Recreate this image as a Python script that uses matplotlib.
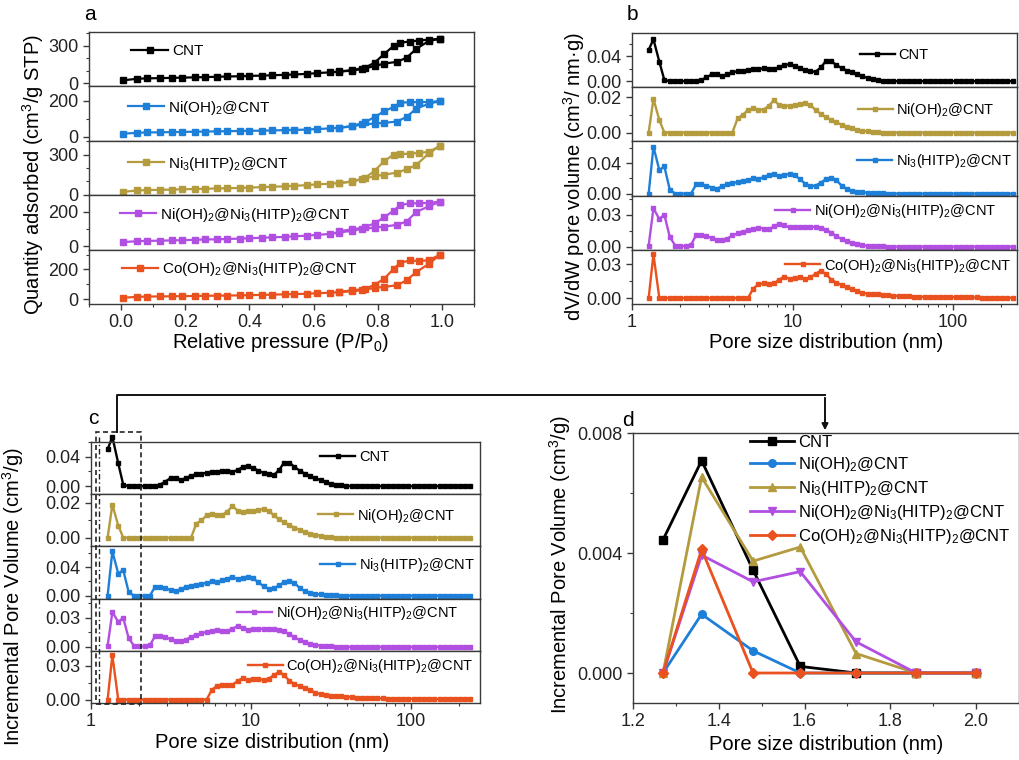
import numpy as np
import matplotlib
matplotlib.use('Agg')
import matplotlib.pyplot as plt
from matplotlib.ticker import MultipleLocator, FormatStrFormatter, LogLocator, NullFormatter, FixedLocator, FixedFormatter
from matplotlib.lines import Line2D
from matplotlib.patches import Rectangle, FancyArrowPatch
import matplotlib.transforms as mtransforms

plt.rcParams['font.family'] = ['Liberation Sans', 'DejaVu Sans']
plt.rcParams['mathtext.fontset'] = 'custom'
plt.rcParams['mathtext.rm'] = 'Liberation Sans'
plt.rcParams['mathtext.it'] = 'Liberation Sans:italic'
plt.rcParams['mathtext.bf'] = 'Liberation Sans:bold'

# ---------------- data ----------------
labels = ["CNT", "Ni(OH)$_2$@CNT", "Ni$_3$(HITP)$_2$@CNT",
          "Ni(OH)$_2$@Ni$_3$(HITP)$_2$@CNT", "Co(OH)$_2$@Ni$_3$(HITP)$_2$@CNT"]

# Panel a: N2 isotherms
ads_p = [0.005, 0.05, 0.08, 0.12, 0.16, 0.19, 0.23, 0.26, 0.30, 0.33, 0.37, 0.40, 0.44, 0.47, 0.51,
         0.54, 0.58, 0.61, 0.65, 0.68, 0.72, 0.75, 0.79, 0.82, 0.86, 0.89, 0.92, 0.96, 0.995]
des_p = [0.995, 0.96, 0.93, 0.90, 0.87, 0.85, 0.82, 0.79, 0.76, 0.72, 0.68]

cnt_ads = [24, 37, 40, 42, 44, 46, 48, 50, 53, 55, 57, 60, 62, 65, 68, 71, 76, 82, 88, 94, 102, 114, 138, 158, 172, 205, 275, 340, 355]
cnt_des = [355, 350, 342, 334, 325, 300, 235, 165, 125, 106, 95]
nioh_ads = [17, 22, 24, 25, 26, 27, 28, 29, 30, 31, 32, 33, 34, 35, 37, 38, 40, 43, 46, 50, 57, 68, 73, 77, 84, 110, 155, 183, 197]
nioh_des = [197, 192, 192, 191, 188, 165, 141, 109, 80, 60, 50]
ni3_ads = [22, 32, 35, 37, 39, 41, 43, 45, 47, 49, 51, 54, 57, 60, 63, 67, 72, 78, 82, 88, 98, 117, 138, 150, 165, 190, 222, 310, 366]
ni3_des = [366, 320, 312, 307, 302, 300, 251, 178, 125, 100, 86]
niohni3_ads = [25, 30, 32, 33, 35, 36, 38, 40, 41, 43, 45, 47, 50, 52, 55, 58, 62, 66, 72, 80, 90, 100, 108, 114, 124, 143, 198, 231, 257]
niohni3_des = [257, 250, 248, 247, 237, 206, 167, 133, 110, 98, 88]
cohni3_ads = [9, 15, 17, 18, 19, 20, 21, 22, 23, 24, 25, 27, 28, 30, 32, 34, 36, 39, 43, 47, 52, 60, 75, 82, 93, 127, 182, 238, 300]
cohni3_des = [300, 262, 256, 260, 244, 204, 138, 95, 70, 58, 50]

# Panels b & c: pore size distributions
psd_x = [1.27, 1.36, 1.48, 1.59, 1.72, 1.86, 2.00, 2.16, 2.33, 2.51, 2.70, 2.91, 3.14, 3.38, 3.64, 3.92,
         4.22, 4.55, 4.90, 5.28, 5.69, 6.13, 6.60, 7.11, 7.66, 8.25, 8.89, 9.58, 10.3, 11.1, 12.0, 12.9,
         13.9, 15.0, 16.1, 17.4, 18.7, 20.2, 21.7, 23.4, 25.2, 27.2, 29.3, 31.5, 34.0, 36.6, 39.4, 42.5,
         45.8, 49.3, 53.1, 57.2, 61.6, 66.4, 71.5, 77.0, 83.0, 89.4, 96.3, 104, 112, 120, 130, 140, 151,
         162, 175, 188, 203, 218, 235]
psd_cnt = [0.050, 0.067, 0.031, 0.002, 0.0, 0.0, 0.0, 0.0, 0.0, 0.0, 0.002, 0.006, 0.011, 0.011, 0.008, 0.011,
           0.014, 0.016, 0.017, 0.018, 0.019, 0.019, 0.021, 0.020, 0.019, 0.022, 0.026, 0.027, 0.025, 0.021, 0.018, 0.016,
           0.015, 0.022, 0.032, 0.032, 0.026, 0.021, 0.017, 0.014, 0.011, 0.008, 0.005, 0.003, 0.002, 0.001, 0.0005, 0.0,
           0.0, 0.0, 0.0, 0.0, 0.0, 0.0, 0.0, 0.0, 0.0, 0.0, 0.0, 0.0, 0.0, 0.0, 0.0, 0.0, 0.0,
           0.0, 0.0, 0.0, 0.0, 0.0, 0.0]
psd_nioh = [0.0, 0.019, 0.007, 0.0, 0.0, 0.0, 0.0, 0.0, 0.0, 0.0, 0.0, 0.0, 0.0, 0.0, 0.0, 0.0,
            0.0, 0.008, 0.010, 0.0128, 0.0137, 0.013, 0.013, 0.0150, 0.0183, 0.0155, 0.0150, 0.0152, 0.0155, 0.0160, 0.0165, 0.0155,
            0.0128, 0.0105, 0.0088, 0.0072, 0.0058, 0.0045, 0.0033, 0.0024, 0.0016, 0.0010, 0.0006, 0.0003, 0.0001, 0.0, 0.0, 0.0,
            0.0, 0.0, 0.0, 0.0, 0.0, 0.0, 0.0, 0.0, 0.0, 0.0, 0.0, 0.0, 0.0, 0.0, 0.0, 0.0, 0.0,
            0.0, 0.0, 0.0, 0.0, 0.0, 0.0]
psd_ni3 = [0.0, 0.062, 0.031, 0.036, 0.005, 0.0, 0.0, 0.0, 0.0, 0.012, 0.012, 0.0105, 0.008, 0.0065, 0.0095, 0.012,
           0.0135, 0.0155, 0.0165, 0.0178, 0.020, 0.019, 0.022, 0.024, 0.0265, 0.023, 0.0245, 0.026, 0.0245, 0.019, 0.013, 0.0098,
           0.0105, 0.0145, 0.019, 0.021, 0.018, 0.0105, 0.0065, 0.0040, 0.0027, 0.0018, 0.0012, 0.0007, 0.0004, 0.0002, 0.0, 0.0,
           0.0, 0.0, 0.0, 0.0, 0.0, 0.0, 0.0, 0.0, 0.0, 0.0, 0.0, 0.0, 0.0, 0.0, 0.0, 0.0, 0.0,
           0.0, 0.0, 0.0, 0.0, 0.0, 0.0]
psd_niohni3 = [0.001, 0.036, 0.026, 0.030, 0.009, 0.001, 0.0005, 0.0005, 0.0015, 0.0110, 0.0112, 0.0098, 0.0082, 0.0062, 0.0060, 0.0075,
               0.0105, 0.0125, 0.0140, 0.0155, 0.0165, 0.0178, 0.0170, 0.0165, 0.0190, 0.0215, 0.0200, 0.0180, 0.0185, 0.0187, 0.0187, 0.0187,
               0.0186, 0.0178, 0.0160, 0.0132, 0.0100, 0.0070, 0.0050, 0.0034, 0.0021, 0.0013, 0.0008, 0.0005, 0.0003, 0.0002, 0.0, 0.0,
               0.0, 0.0, 0.0, 0.0, 0.0, 0.0, 0.0, 0.0, 0.0, 0.0, 0.0, 0.0, 0.0, 0.0, 0.0, 0.0, 0.0,
               0.0, 0.0, 0.0, 0.0, 0.0, 0.0]
psd_cohni3 = [0.0, 0.039, 0.0, 0.0, 0.0, 0.0, 0.0, 0.0, 0.0, 0.0, 0.0, 0.0, 0.0, 0.0, 0.0, 0.0,
              0.0, 0.0, 0.0, 0.0, 0.0085, 0.0122, 0.0130, 0.0125, 0.0130, 0.0165, 0.0190, 0.0172, 0.0180, 0.0185, 0.0170, 0.0185,
              0.0215, 0.0245, 0.0215, 0.0165, 0.0138, 0.0118, 0.0100, 0.0082, 0.0062, 0.0048, 0.0040, 0.0036, 0.0033, 0.0029, 0.0025, 0.0021,
              0.0018, 0.0016, 0.0014, 0.0012, 0.0011, 0.0010, 0.0009, 0.0009, 0.0008, 0.0008, 0.0007, 0.0007, 0.0006, 0.0006, 0.0005, 0.0005, 0.0004,
              0.0004, 0.0003, 0.0003, 0.0003, 0.0002, 0.0002]

# Panel d: micropore zoom
d_x = [1.27, 1.36, 1.48, 1.59, 1.72, 1.86, 2.00]
d_cnt = [0.00444, 0.00708, 0.00343, 0.00022, 0.0, 0.0, 0.0]
d_nioh = [0.0, 0.00196, 0.00074, 0.0, 0.0, 0.0, 0.0]
d_ni3 = [0.0, 0.00653, 0.00373, 0.00420, 0.00065, 0.0, 0.0]
d_niohni3 = [0.0, 0.00393, 0.00304, 0.00338, 0.00104, 0.0, 0.0]
d_cohni3 = [0.0, 0.00412, 0.0, 0.0, 0.0, 0.0, 0.0]

# ---------------- styling ----------------
BLACK = '#000000'
BLUE = '#1E7FD8'
OLIVE = '#B39B3E'
PURPLE = '#B24FE3'
ORANGE = '#E9511E'
SPINE = '#3a3a3a'
TICK_FS = 13
LABEL_FS = 14.5
LEG_FS = 11

W, H = 1019, 760
fig = plt.figure(figsize=(W / 100, H / 100), dpi=100)


def fx(px):
    return px / W


def fy(py):
    return 1 - py / H


def stack_axes(left, top, right, bottom, n=5):
    h = (bottom - top) / n
    axes = []
    for i in range(n):
        t = top + i * h
        ax = fig.add_axes([fx(left), fy(t + h), fx(right) - fx(left), h / H])
        axes.append(ax)
    return axes


def style_ax(ax, show_x):
    for s in ax.spines.values():
        s.set_color(SPINE)
        s.set_linewidth(1.0)
    ax.tick_params(axis='both', which='both', direction='out', colors=SPINE, labelcolor='#222222',
                   labelsize=TICK_FS, right=False, top=False)
    ax.tick_params(which='major', length=4, width=1.0)
    ax.tick_params(which='minor', length=2.5, width=0.8)
    if not show_x:
        ax.tick_params(axis='x', which='both', bottom=False, labelbottom=False)


def leg(ax, xa, ya, fs=LEG_FS):
    ax.legend(loc='center left', bbox_to_anchor=(xa, ya), frameon=False, borderpad=0,
              borderaxespad=0, handlelength=2.4, handletextpad=0.25, fontsize=fs, numpoints=1)


# ---------------- panel a ----------------
axa = stack_axes(89, 32, 474, 304)
a_series = [(cnt_ads, cnt_des, BLACK), (nioh_ads, nioh_des, BLUE), (ni3_ads, ni3_des, OLIVE),
            (niohni3_ads, niohni3_des, PURPLE), (cohni3_ads, cohni3_des, ORANGE)]
a_ylims = [(-24, 410), (-22, 278), (-3, 402), (-18, 294), (-33, 333)]
a_major = [300, 200, 300, 200, 200]
a_leg = [(0.11, 0.65), (0.10, 0.61), (0.10, 0.58), (0.08, 0.64), (0.085, 0.64)]
for i, ax in enumerate(axa):
    ads, des, c = a_series[i]
    ax.plot(ads_p, ads, '-', color=c, marker='s', ms=4.5, lw=1.6, label=labels[i])
    ax.plot(des_p, des, '-', color=c, marker='s', ms=4.5, lw=1.6)
    ax.set_xlim(-0.1, 1.1)
    ax.set_ylim(*a_ylims[i])
    ax.yaxis.set_major_locator(MultipleLocator(a_major[i]))
    ax.yaxis.set_minor_locator(MultipleLocator(100))
    ax.xaxis.set_major_locator(MultipleLocator(0.2))
    ax.xaxis.set_minor_locator(MultipleLocator(0.1))
    ax.xaxis.set_major_formatter(FormatStrFormatter('%.1f'))
    style_ax(ax, i == 4)
    leg(ax, *a_leg[i])

fig.text(fx(33), fy(174), "Quantity adsorbed (cm$^3$/g STP)", rotation=90, ha='center', va='center', fontsize=LABEL_FS)
fig.text(fx(281), fy(343), "Relative pressure (P/P$_0$)", ha='center', va='center', fontsize=LABEL_FS)
fig.text(fx(90), fy(14), "a", ha='center', va='center', fontsize=15)

# ---------------- panel b & c ----------------
bc_series = [(psd_cnt, BLACK, labels[0]), (psd_nioh, OLIVE, labels[1]), (psd_ni3, BLUE, labels[2]),
             (psd_niohni3, PURPLE, labels[3]), (psd_cohni3, ORANGE, labels[4])]
bc_major = [0.04, 0.02, 0.04, 0.03, 0.03]


def psd_stack(axes, ylims, legpos, xmax, fs):
    for i, ax in enumerate(axes):
        y, c, lab = bc_series[i]
        ax.plot(psd_x, y, '-', color=c, marker='s', ms=3.4, lw=1.7, label=lab, clip_on=False)
        ax.set_xscale('log')
        ax.set_xlim(1, xmax)
        ax.set_ylim(*ylims[i])
        ax.yaxis.set_major_locator(MultipleLocator(bc_major[i]))
        ax.yaxis.set_minor_locator(MultipleLocator(bc_major[i] / 2))
        ax.yaxis.set_major_formatter(FormatStrFormatter('%.2f'))
        ax.xaxis.set_major_locator(FixedLocator([1, 10, 100]))
        ax.xaxis.set_major_formatter(FixedFormatter(['1', '10', '100']))
        ax.xaxis.set_minor_locator(LogLocator(base=10, subs=np.arange(2, 10)))
        ax.xaxis.set_minor_formatter(NullFormatter())
        style_ax(ax, i == 4)
        leg(ax, *legpos[i], fs=fs)


axb = stack_axes(632, 33, 1017, 304)
psd_stack(axb,
          [(-0.0096, 0.077), (-0.005, 0.0256), (-0.0027, 0.069), (-0.003, 0.048), (-0.0053, 0.043)],
          [(0.592, 0.59), (0.586, 0.58), (0.585, 0.63), (0.372, 0.72), (0.398, 0.71)], 250, 10.5)
fig.text(fx(574), fy(177), "dV/dW pore volume (cm$^3$/ nm·g)", rotation=90, ha='center', va='center', fontsize=LABEL_FS)
fig.text(fx(826), fy(343), "Pore size distribution (nm)", ha='center', va='center', fontsize=LABEL_FS)
fig.text(fx(632), fy(15), "b", ha='center', va='center', fontsize=15)

axc = stack_axes(91, 442, 480, 703)
psd_stack(axc,
          [(-0.011, 0.060), (-0.005, 0.025), (-0.004, 0.069), (-0.004, 0.050), (-0.003, 0.043)],
          [(0.589, 0.72), (0.584, 0.59), (0.589, 0.64), (0.375, 0.72), (0.403, 0.71)], 270, 10.5)
fig.text(fx(13), fy(597), "Incremental Pore Volume (cm$^3$/g)", rotation=90, ha='center', va='center', fontsize=LABEL_FS)
fig.text(fx(272), fy(743), "Pore size distribution (nm)", ha='center', va='center', fontsize=LABEL_FS)
fig.text(fx(93), fy(419), "c", ha='center', va='center', fontsize=15)

# dashed selection box on panel c
trans = mtransforms.blended_transform_factory(axc[0].transData, fig.transFigure)
box = Rectangle((1.075, fy(704)), 2.04 - 1.075, (704 - 432) / H, transform=trans,
                fill=False, ls=(0, (3, 2)), lw=1.2, color='#222222')
fig.add_artist(box)
fig.add_artist(Line2D([1.12, 1.12], [fy(704), fy(437)], transform=trans, ls=(0, (4, 2, 1, 2)), lw=1.0, color='#222222'))

# ---------------- panel d ----------------
axd = fig.add_axes([fx(633), fy(703), 1 - fx(633), (703 - 433) / H])
axd.plot(d_x, d_cnt, '-', color=BLACK, marker='s', ms=5.5, lw=2.0, label=labels[0])
axd.plot(d_x, d_nioh, '-', color=BLUE, marker='o', ms=5.5, lw=2.0, label=labels[1])
axd.plot(d_x, d_ni3, '-', color=OLIVE, marker='^', ms=5.5, lw=2.0, label=labels[2])
axd.plot(d_x, d_niohni3, '-', color=PURPLE, marker='v', ms=5.5, lw=2.0, label=labels[3])
axd.plot(d_x, d_cohni3, '-', color=ORANGE, marker='D', ms=5.0, lw=2.0, label=labels[4])
axd.set_xlim(1.2, 2.1)
axd.set_ylim(-0.001, 0.008)
axd.xaxis.set_major_locator(MultipleLocator(0.2))
axd.xaxis.set_minor_locator(MultipleLocator(0.1))
axd.xaxis.set_major_formatter(FormatStrFormatter('%.1f'))
axd.yaxis.set_major_locator(MultipleLocator(0.004))
axd.yaxis.set_minor_locator(MultipleLocator(0.002))
axd.yaxis.set_major_formatter(FormatStrFormatter('%.3f'))
style_ax(axd, True)
axd.legend(loc='upper left', bbox_to_anchor=(0.30, 1.0), frameon=False, borderpad=0.1, borderaxespad=0,
           handlelength=2.6, handletextpad=0.25, labelspacing=0.3, fontsize=12, numpoints=1)
fig.text(fx(560), fy(565), "Incremental Pore Volume (cm$^3$/g)", rotation=90, ha='center', va='center', fontsize=LABEL_FS)
fig.text(fx(826), fy(744), "Pore size distribution (nm)", ha='center', va='center', fontsize=LABEL_FS)
fig.text(fx(628), fy(420), "d", ha='center', va='center', fontsize=15)

# connector from box in c to panel d
fig.add_artist(Line2D([fx(117), fx(117), fx(825)], [fy(432), fy(395), fy(395)], transform=fig.transFigure,
                      color='#111111', lw=1.4))
fig.add_artist(FancyArrowPatch((fx(825), fy(395)), (fx(825), fy(433)), transform=fig.transFigure,
                               arrowstyle='-|>', mutation_scale=9, color='#111111', lw=1.4))

fig.savefig('out.png', dpi=100)
